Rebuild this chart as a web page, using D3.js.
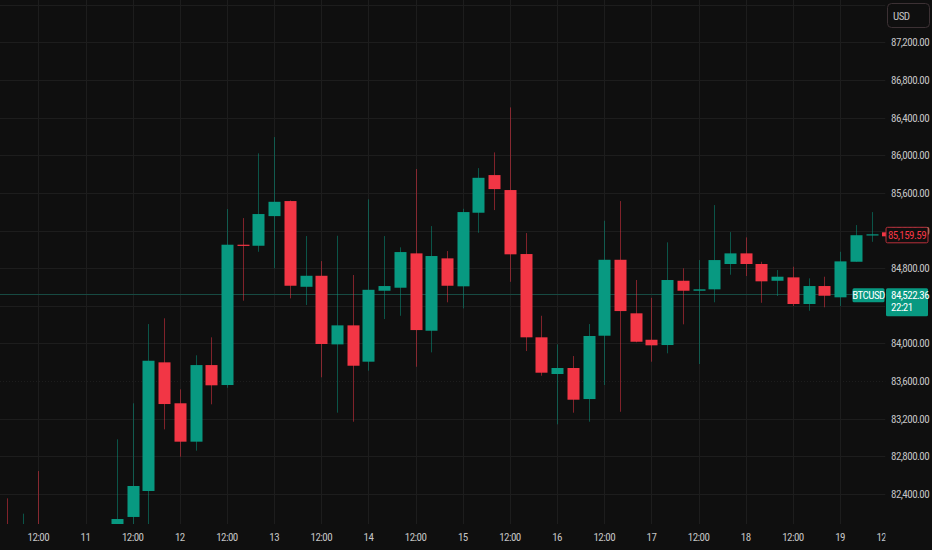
<!DOCTYPE html>
<html><head><meta charset="utf-8">
<script src="https://cdn.jsdelivr.net/npm/d3@7"></script>
<style>html,body{margin:0;padding:0;background:#0f0f0f;overflow:hidden}
text{font-family:"Liberation Sans Narrow","Roboto Condensed","Liberation Sans",sans-serif;}</style>
</head><body><svg id="c" width="932" height="550"></svg>
<script>
// 4h BTC candles, starting 2025-04-10 04:00 UTC
const startTime = Date.UTC(2025, 3, 10, 4);
const opens  = [81980,81800,81980,81700,81600,81750,81650,81950,82156,82432,83799,83364,82956,83770,83558,85049,85038,85353,85513,84602,84719,83990,84192,83806,84560,84592,84957,84135,84904,84607,85389,85789,85630,84950,84065,83675,83739,83409,84082,84889,84320,84039,83983,84666,84560,84575,84844,84957,84844,84666,84702,84419,84610,84490,84868,85150];
const highs  = [82354,82191,82644,81950,81900,82000,81980,82981,83364,84206,84267,83512,83874,84065,85428,85332,86020,86193,85520,85141,84875,85144,84727,85531,85141,85021,85853,85247,84982,85431,85863,86030,86508,85173,84294,83990,83866,84206,85304,85513,84674,84485,85074,84798,84886,85470,85183,85127,84868,84780,84815,84692,84709,84974,85258,85396];
const lows   = [81700,81650,81500,81400,81350,81500,81450,81850,81950,82000,83087,82796,82860,83353,83529,84454,84974,84798,84479,84408,83640,83264,83168,83710,84259,84294,83752,83905,84437,84373,85176,85417,84655,83919,83657,83140,83264,83168,83558,83274,84012,83806,83895,84203,83781,84437,84730,84716,84432,84504,84397,84347,84384,84397,84868,85080];
const closes = [81850,81950,81700,81600,81750,81650,81900,82134,82485,83816,83356,82956,83770,83555,85049,85043,85375,85505,84613,84719,83994,84192,83763,84570,84610,84971,84142,84929,84613,85396,85760,85640,84947,84065,83689,83739,83402,84079,84889,84344,84018,83980,84674,84560,84575,84886,84957,84844,84660,84709,84419,84610,84507,84872,85150,85159.59];
const gridPrices = [82400,82800,83200,83600,84000,84400,84800,85200,85600,86000,86400,86800,87200,87600];
const priceLabels = [82400,82800,83200,83600,84000,84800,85200,85600,86000,86400,86800,87200];
const timeTicks = [
  ["2025-04-10T12:00Z","12:00"],["2025-04-11T00:00Z","11"],["2025-04-11T12:00Z","12:00"],
  ["2025-04-12T00:00Z","12"],["2025-04-12T12:00Z","12:00"],["2025-04-13T00:00Z","13"],
  ["2025-04-13T12:00Z","12:00"],["2025-04-14T00:00Z","14"],["2025-04-14T12:00Z","12:00"],
  ["2025-04-15T00:00Z","15"],["2025-04-15T12:00Z","12:00"],["2025-04-16T00:00Z","16"],
  ["2025-04-16T12:00Z","12:00"],["2025-04-17T00:00Z","17"],["2025-04-17T12:00Z","12:00"],
  ["2025-04-18T00:00Z","18"],["2025-04-18T12:00Z","12:00"],["2025-04-19T00:00Z","19"],
  ["2025-04-19T12:00Z","12:00"]
];
const lastPrice = 85159.59;
const refSymbol = "BTCUSD", refPrice = 84522.36, countdown = "22:21";
const currency = "USD";

const W = 932, H = 550, plotR = 885.5, plotB = 524;
const UP = "#089981", DOWN = "#f23645", BG = "#0f0f0f", GRID = "#1d1d1d", TXT = "#c4c4c4";
const FS = 11, LS = -0.55;

const candles = opens.map((o, i) => ({
  t: new Date(startTime + i * 4 * 3600 * 1000), o, h: highs[i], l: lows[i], c: closes[i]
}));

const x = d3.scaleUtc()
  .domain([new Date(startTime), new Date(startTime + 55 * 4 * 3600 * 1000)])
  .range([6.9, 871.5]);
const y = d3.scaleLinear().domain([82400, 87200]).range([494, 42.3]);
const bw = 12;

const svg = d3.select("#c");
svg.append("rect").attr("width", W).attr("height", H).attr("fill", BG);

const defs = svg.append("defs");
defs.append("clipPath").attr("id", "plot").append("rect")
  .attr("x", 0).attr("y", 0).attr("width", plotR).attr("height", plotB);
defs.append("clipPath").attr("id", "taxis").append("rect")
  .attr("x", 0).attr("y", plotB).attr("width", plotR).attr("height", H - plotB);

const plot = svg.append("g").attr("clip-path", "url(#plot)");

// grid
plot.selectAll("line.hg").data(gridPrices).join("line")
  .attr("x1", 0).attr("x2", plotR)
  .attr("y1", d => Math.round(y(d)) + 0.5).attr("y2", d => Math.round(y(d)) + 0.5)
  .attr("stroke", GRID).attr("stroke-width", 1)
  .attr("stroke-dasharray", d => d === 83600 ? "1,2" : null);
plot.selectAll("line.vg").data(timeTicks).join("line")
  .attr("y1", 0).attr("y2", plotB)
  .attr("x1", d => Math.round(x(new Date(d[0]))) + 0.5)
  .attr("x2", d => Math.round(x(new Date(d[0]))) + 0.5)
  .attr("stroke", GRID).attr("stroke-width", 1);

// reference symbol price line
plot.append("line")
  .attr("x1", 0).attr("x2", plotR)
  .attr("y1", Math.round(y(refPrice)) + 0.5).attr("y2", Math.round(y(refPrice)) + 0.5)
  .attr("stroke", "#174a42").attr("stroke-width", 1);

// candles
const cg = plot.selectAll("g.candle").data(candles).join("g");
cg.append("line")
  .attr("x1", d => Math.round(x(d.t)) + 0.5).attr("x2", d => Math.round(x(d.t)) + 0.5)
  .attr("y1", d => y(d.h)).attr("y2", d => y(d.l))
  .attr("stroke", d => d.c >= d.o ? UP : DOWN).attr("stroke-opacity", 0.5).attr("stroke-width", 1);
cg.append("rect")
  .attr("x", d => Math.round(x(d.t)) + 0.5 - bw / 2)
  .attr("width", bw)
  .attr("y", d => y(Math.max(d.o, d.c)))
  .attr("height", d => Math.max(1.2, Math.abs(y(d.o) - y(d.c))))
  .attr("fill", d => d.c >= d.o ? UP : DOWN);

// time axis
const tax = svg.append("g").attr("clip-path", "url(#taxis)");
tax.selectAll("text").data(timeTicks).join("text")
  .attr("x", d => x(new Date(d[0]))).attr("y", 541)
  .attr("text-anchor", "middle").attr("fill", TXT)
  .attr("font-size", FS).attr("letter-spacing", LS)
  .text(d => d[1]);

// price axis labels
svg.append("g").selectAll("text").data(priceLabels).join("text")
  .attr("x", 891).attr("y", d => y(d) + 4)
  .attr("fill", TXT).attr("font-size", FS).attr("letter-spacing", LS)
  .text(d => d3.format(",.2f")(d));

// USD box
svg.append("rect").attr("x", 887.5).attr("y", 3.5).attr("width", 42).attr("height", 24)
  .attr("rx", 4).attr("fill", BG).attr("stroke", "#3c3134");
svg.append("text").attr("x", 893).attr("y", 19.5).attr("fill", TXT)
  .attr("font-size", FS).attr("letter-spacing", LS).text(currency);

// last price label
const ly = y(lastPrice);
svg.append("rect").attr("x", 882).attr("y", ly - 2).attr("width", 4).attr("height", 4).attr("fill", DOWN);
svg.append("rect").attr("x", 886).attr("y", ly - 7).attr("width", 42).attr("height", 15.5)
  .attr("rx", 1.5).attr("fill", BG).attr("stroke", "#b8303b");
svg.append("text").attr("x", 907).attr("y", ly + 4.5).attr("text-anchor", "middle")
  .attr("fill", DOWN).attr("font-size", FS).attr("letter-spacing", LS)
  .text(d3.format(",.2f")(lastPrice));

// reference symbol labels
const ry = y(refPrice);
svg.append("rect").attr("x", 852.5).attr("y", ry - 6).attr("width", 32).attr("height", 14)
  .attr("rx", 1.5).attr("fill", UP);
svg.append("text").attr("x", 868.5).attr("y", ry + 4.5).attr("text-anchor", "middle")
  .attr("fill", "#ffffff").attr("font-size", FS).attr("letter-spacing", LS).text(refSymbol);
svg.append("rect").attr("x", 886).attr("y", ry - 6).attr("width", 42).attr("height", 28)
  .attr("rx", 1.5).attr("fill", UP);
svg.append("text").attr("x", 891).attr("y", ry + 4.5).attr("fill", "#ffffff")
  .attr("font-size", FS).attr("letter-spacing", LS).text(d3.format(",.2f")(refPrice));
svg.append("text").attr("x", 891).attr("y", ry + 17).attr("fill", "#ffffff")
  .attr("font-size", FS).attr("letter-spacing", LS).text(countdown);
</script></body></html>
